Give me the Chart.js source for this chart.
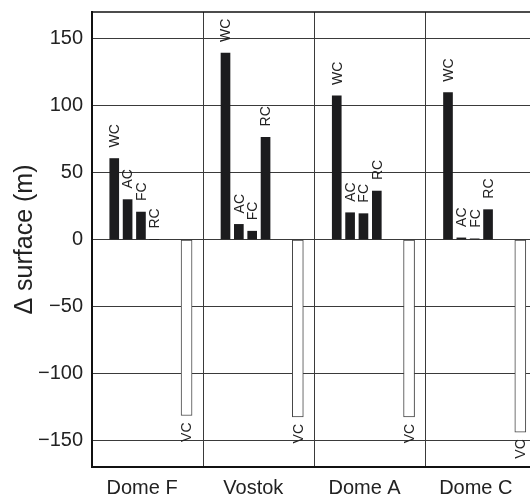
<!DOCTYPE html>
<html>
<head>
<meta charset="utf-8">
<script src="https://cdn.jsdelivr.net/npm/chart.js@4.4.1/dist/chart.umd.min.js"></script>
</head>
<body style="margin:0; overflow:hidden; background:#fff;">
<div style="position:relative; width:545px; height:499px;">
  <canvas id="grafik"></canvas>
</div>
<script>
// ── VERI ──
const groups = ['Dome F', 'Vostok', 'Dome A', 'Dome C']
const components = ['WC', 'AC', 'FC', 'RC', 'VC']
const wc = [60.5, 139.3, 107.3, 109.7]
const ac = [29.8, 11.3, 20.0, 1.2]
const fc = [20.5, 6.2, 19.3, 0.5]
const rc = [0, 76.3, 36.2, 22.3]
const vc = [-131.5, -132.6, -132.5, -144]
const yTicks = [-150, -100, -50, 0, 50, 100, 150]

// place of each component inside its group (0..1 of group width)
const slot = [0.2, 0.32, 0.44, 0.56, 0.85]
const labelSlot = 0.45
const series = [wc, ac, fc, rc, vc]

const font = "'Liberation Sans', Arial, Helvetica, sans-serif"

// rotated WC/AC/... labels next to the bar ends
const barLabels = {
  id: 'barLabels',
  afterDatasetsDraw(chart) {
    const ctx = chart.ctx
    ctx.save()
    ctx.font = `14px ${font}`
    ctx.fillStyle = '#222'
    ctx.textBaseline = 'middle'
    chart.data.datasets.forEach((ds, i) => {
      chart.getDatasetMeta(i).data.forEach((bar, j) => {
        const neg = ds.data[j].y < 0
        ctx.save()
        ctx.translate(bar.x, neg ? bar.y + 7 : bar.y - 11)
        ctx.rotate(-Math.PI / 2)
        ctx.textAlign = neg ? 'right' : 'left'
        ctx.fillText(ds.label, 0, 1)
        ctx.restore()
      })
    })
    ctx.restore()
  }
}

// top frame line
const topFrame = {
  id: 'topFrame',
  afterDraw(chart) {
    const { ctx, chartArea: a } = chart
    ctx.save()
    ctx.strokeStyle = '#111'
    ctx.lineWidth = 1.5
    ctx.beginPath()
    ctx.moveTo(a.left, a.top)
    ctx.lineTo(a.right, a.top)
    ctx.stroke()
    ctx.restore()
  }
}

const xTicks = [0]
groups.forEach((g, i) => { xTicks.push(i + labelSlot, i + 1) })

new Chart(document.getElementById('grafik'), {
  type: 'bar',
  data: {
    datasets: components.map((name, i) => ({
      label: name,
      data: groups.map((g, j) => ({ x: j + slot[i], y: series[i][j] })),
      backgroundColor: name === 'VC' ? '#fff' : '#1c1c1e',
      borderColor: name === 'VC' ? '#444' : '#1c1c1e',
      borderWidth: name === 'VC' ? 1 : 0,
      borderSkipped: false,
      barThickness: name === 'VC' ? 11 : 9,
      grouped: false
    }))
  },
  options: {
    responsive: true,
    maintainAspectRatio: false,
    animation: false,
    layout: { padding: { top: 12, right: 8, left: 0, bottom: 0 } },
    plugins: { legend: { display: false }, tooltip: { enabled: false } },
    scales: {
      x: {
        type: 'linear',
        min: 0,
        max: 4,
        offset: false,
        afterBuildTicks: s => { s.ticks = xTicks.map(v => ({ value: v })) },
        afterFit: s => { s.height = 32; s.paddingLeft = 0; s.paddingRight = 0 },
        grid: {
          offset: false,
          drawTicks: false,
          color: c => (c.tick && !Number.isInteger(c.tick.value)) ? 'rgba(0,0,0,0)' : '#3a3a3a',
          lineWidth: 1
        },
        border: { color: '#111', width: 2 },
        ticks: {
          padding: 9,
          autoSkip: false,
          maxRotation: 0,
          color: '#222',
          font: { family: font, size: 20 },
          callback: v => Number.isInteger(v) ? '' : groups[Math.floor(v)]
        }
      },
      y: {
        min: -170,
        max: 170,
        afterBuildTicks: s => { s.ticks = yTicks.map(v => ({ value: v })) },
        afterFit: s => { s.width = 92; s.paddingTop = 0; s.paddingBottom = 0 },
        grid: { drawTicks: false, color: '#3a3a3a', lineWidth: 1 },
        border: { color: '#111', width: 2 },
        ticks: {
          padding: 9,
          color: '#222',
          font: { family: font, size: 20 },
          callback: v => v < 0 ? '\u2212' + Math.abs(v) : String(v)
        },
        title: {
          display: true,
          text: 'Δ surface (m)',
          color: '#222',
          font: { family: font, size: 25 },
          padding: { top: 10, bottom: 0 }
        }
      }
    }
  },
  plugins: [barLabels, topFrame]
})
</script>
</body>
</html>
